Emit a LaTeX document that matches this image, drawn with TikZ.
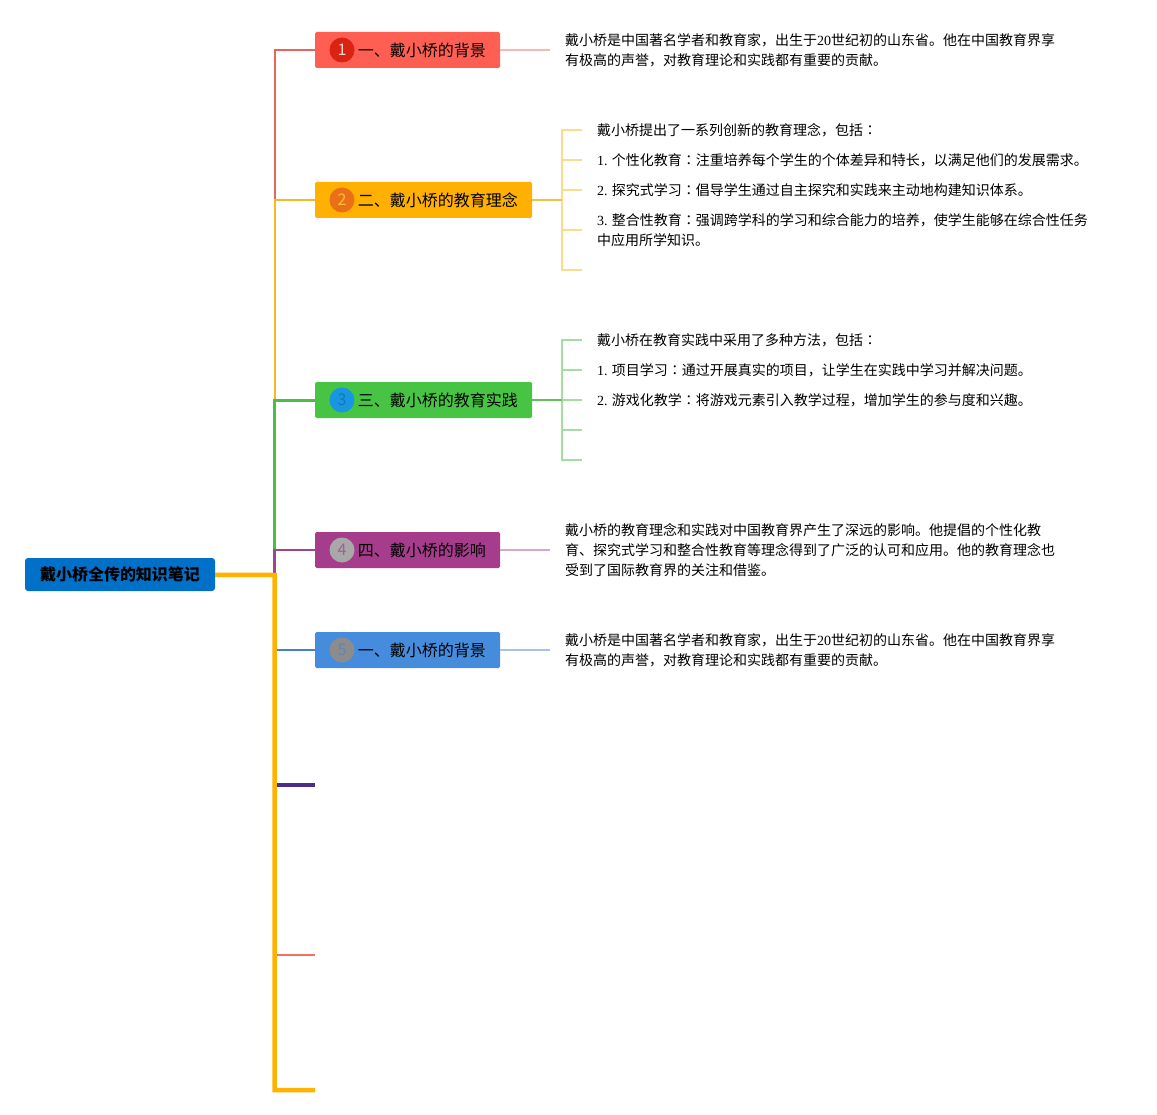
\documentclass[tikz,border=0pt]{standalone}
\usepackage{fontspec}
\setmainfont{Noto Sans CJK SC}
\newfontfamily\serifnum{Liberation Serif}
\newfontfamily\cjktc{Noto Sans CJK TC}
\usetikzlibrary{positioning}

\newcommand{\nb}[1]{{\serifnum #1}}
\newcommand{\cln}{{\cjktc ：}}

\definecolor{rootblue}{RGB}{0,112,200}
\definecolor{trunkorange}{RGB}{255,178,0}
\definecolor{topicred}{RGB}{255,95,82}
\definecolor{topicyellow}{RGB}{255,176,0}
\definecolor{topicgreen}{RGB}{72,196,68}
\definecolor{topicpurple}{RGB}{165,60,140}
\definecolor{topicblue}{RGB}{70,140,220}
\definecolor{dotred}{RGB}{218,35,18}
\definecolor{dotorange}{RGB}{235,110,25}
\definecolor{dotblue}{RGB}{25,150,225}
\definecolor{dotgray}{RGB}{168,168,168}
\definecolor{dotdark}{RGB}{140,140,140}
\definecolor{linered}{RGB}{232,100,95}
\definecolor{lineyellow}{RGB}{245,185,40}
\definecolor{linegreen}{RGB}{75,190,70}
\definecolor{linepurple}{RGB}{160,70,140}
\definecolor{lineblue}{RGB}{70,130,200}
\definecolor{stubpurple}{RGB}{75,45,140}
\definecolor{stubred}{RGB}{245,110,100}
\definecolor{lightred}{RGB}{245,185,180}
\definecolor{lightyellow}{RGB}{250,220,140}
\definecolor{midyellow}{RGB}{240,195,70}
\definecolor{lightgreen}{RGB}{165,220,160}
\definecolor{midgreen}{RGB}{95,195,90}
\definecolor{lightpurple}{RGB}{215,165,205}
\definecolor{lightblue}{RGB}{165,195,230}

\tikzset{
  root_node/.style = {rectangle, rounded corners=3pt, fill=rootblue,
    font=\fontsize{16}{20}\selectfont\bfseries, minimum width=190pt,
    minimum height=33pt, inner sep=0pt},% noeud central
  topic_node/.style = {rectangle, rounded corners=1.5pt, anchor=west,
    minimum width=185pt, minimum height=36pt, inner sep=0pt},% branche
  num_dot/.style = {circle, minimum size=25pt, inner sep=0pt,
    font=\fontsize{16}{16}\selectfont},% pastille numero
  topic_text/.style = {inner sep=0pt, font=\fontsize{16}{20}\selectfont},
  note_text/.style = {anchor=west, align=left, inner xsep=15pt,
    inner ysep=0pt, font=\fontsize{14}{20}\selectfont},% texte libre
  trunk_line/.style = {line width=4.5pt, trunkorange, line join=miter},
  branch_line/.style = {line width=#1}
}

\begin{document}
\begin{tikzpicture}[x=1pt, y=1pt]
    \useasboundingbox (0,0) rectangle (1157,-1115);

    \node [root_node] (root) at (120,-574.5) {戴小桥全传的知识笔记};

    \node [topic_node, fill=topicred] (t1) at (315,-50) {};
    \node [num_dot, fill=dotred, text=white!80!dotred] (n1) at (342,-50) {1};
    \node [topic_text, right=3pt of n1] (l1) {一、戴小桥的背景};

    \node [topic_node, fill=topicyellow, minimum width=217pt] (t2) at (315,-200) {};
    \node [num_dot, fill=dotorange, text=topicyellow!80!white] (n2) at (342,-200) {2};
    \node [topic_text, right=3pt of n2] (l2) {二、戴小桥的教育理念};

    \node [topic_node, fill=topicgreen, minimum width=217pt] (t3) at (315,-400) {};
    \node [num_dot, fill=dotblue, text=dotblue!80!black] (n3) at (342,-400) {3};
    \node [topic_text, right=3pt of n3] (l3) {三、戴小桥的教育实践};

    \node [topic_node, fill=topicpurple] (t4) at (315,-550) {};
    \node [num_dot, fill=dotgray, text=topicpurple!70!dotgray] (n4) at (342,-550) {4};
    \node [topic_text, right=3pt of n4] (l4) {四、戴小桥的影响};

    \node [topic_node, fill=topicblue] (t5) at (315,-650) {};
    \node [num_dot, fill=dotdark, text=lineblue!60!dotdark] (n5) at (342,-650) {5};
    \node [topic_text, right=3pt of n5] (l5) {一、戴小桥的背景};

    % textes
    \node [note_text] (d11) at (550,-50) {戴小桥是中国著名学者和教育家，出生于\nb{20}世纪初的山东省。他在中国教育界享\\有极高的声誉，对教育理论和实践都有重要的贡献。};

    \coordinate (h2) at (562,-200);
    \node [note_text] (d21) at (582,-130) {戴小桥提出了一系列创新的教育理念，包括\cln};
    \node [note_text] (d22) at (582,-160) {\nb{1.} 个性化教育\cln 注重培养每个学生的个体差异和特长，以满足他们的发展需求。};
    \node [note_text] (d23) at (582,-190) {\nb{2.} 探究式学习\cln 倡导学生通过自主探究和实践来主动地构建知识体系。};
    \node [note_text] (d24) at (582,-230) {\nb{3.} 整合性教育\cln 强调跨学科的学习和综合能力的培养，使学生能够在综合性任务\\中应用所学知识。};
    \coordinate (e25) at (582,-270);

    \coordinate (h3) at (562,-400);
    \node [note_text] (d31) at (582,-340) {戴小桥在教育实践中采用了多种方法，包括\cln};
    \node [note_text] (d32) at (582,-370) {\nb{1.} 项目学习\cln 通过开展真实的项目，让学生在实践中学习并解决问题。};
    \node [note_text] (d33) at (582,-400) {\nb{2.} 游戏化教学\cln 将游戏元素引入教学过程，增加学生的参与度和兴趣。};
    \coordinate (e34) at (582,-430);
    \coordinate (e35) at (582,-460);

    \node [note_text] (d41) at (550,-550) {戴小桥的教育理念和实践对中国教育界产生了深远的影响。他提倡的个性化教\\育、探究式学习和整合性教育等理念得到了广泛的认可和应用。他的教育理念也\\受到了国际教育界的关注和借鉴。};

    \node [note_text] (d51) at (550,-650) {戴小桥是中国著名学者和教育家，出生于\nb{20}世纪初的山东省。他在中国教育界享\\有极高的声誉，对教育理论和实践都有重要的贡献。};

    % tronc
    \coordinate (fork) at (274.5,-575);
    \coordinate (s1) at (315,-785);
    \coordinate (s2) at (315,-955);
    \coordinate (s3) at (315,-1090);

    \draw [branch_line=2pt, linered] (t2.west -| fork) |- (t1);
    \draw [branch_line=2pt, lineyellow] (t3.west -| fork) |- (t2);
    \draw [branch_line=3pt, linegreen] (t4.west -| fork) |- (t3);
    \draw [branch_line=2.5pt, linepurple] (fork) |- (t4);
    \draw [branch_line=1.5pt, lineblue] (t5.west -| fork) -- (t5);
    \draw [branch_line=3.5pt, stubpurple] (s1 -| fork) -- (s1);
    \draw [branch_line=2pt, stubred] (s2 -| fork) -- (s2);
    \draw [trunk_line] (root) -- (fork) |- (s3);

    % sous-branches
    \draw [branch_line=1.5pt, lightred] (t1) -- (d11);
    \foreach \n in {d21,d22,d23,d24,e25}
      \draw [branch_line=1.5pt, lightyellow] (h2) |- (\n);
    \draw [branch_line=2pt, midyellow] (t2) -- (h2);
    \foreach \n in {d31,d32,d33,e34,e35}
      \draw [branch_line=1.5pt, lightgreen] (h3) |- (\n);
    \draw [branch_line=2pt, midgreen] (t3) -- (h3);
    \draw [branch_line=1.5pt, lightpurple] (t4) -- (d41);
    \draw [branch_line=1.5pt, lightblue] (t5) -- (d51);
  \end{tikzpicture}
\end{document}
